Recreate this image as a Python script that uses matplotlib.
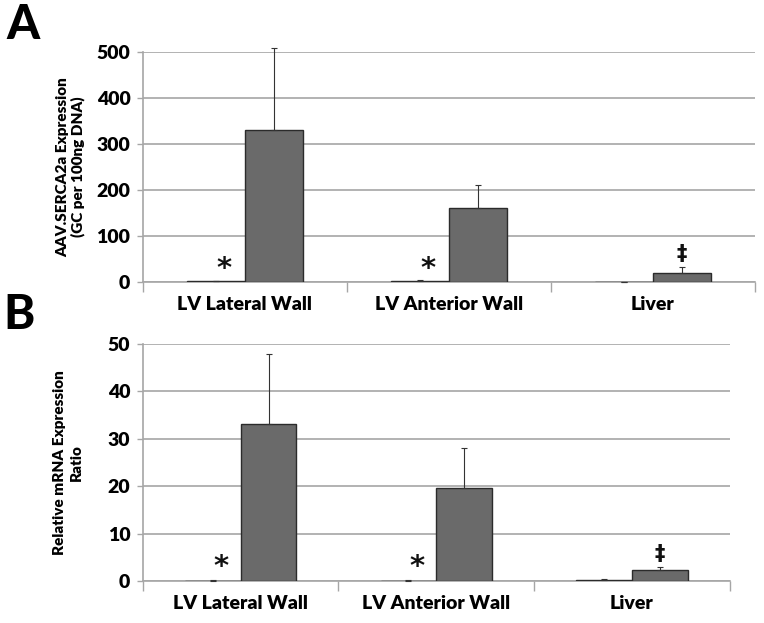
import numpy as np
import matplotlib.pyplot as plt

plt.rcParams['font.family'] = ['Lato', 'DejaVu Sans']

categories = ['LV Lateral Wall', 'LV Anterior Wall', 'Liver']

# panel A: AAV.SERCA2a genome copies
a_ctrl = [2, 3, 1]
a_ctrl_err = [1, 1, 0.5]
a_treat = [330, 161, 19]
a_treat_err = [179, 50, 14]

# panel B: relative mRNA expression ratio
b_ctrl = [0.1, 0.1, 0.3]
b_ctrl_err = [0.05, 0.05, 0.1]
b_treat = [33.1, 19.6, 2.4]
b_treat_err = [14.8, 8.4, 0.6]

# significance marks: (category index, series, symbol)
a_marks = [(0, 0, '*'), (1, 0, '*'), (2, 1, '\u2021')]
b_marks = [(0, 0, '*'), (1, 0, '*'), (2, 1, '\u2021')]

fig = plt.figure(figsize=(7.64, 6.23), dpi=100)
axA = fig.add_axes([0.187, 0.547, 0.801, 0.3695])
axB = fig.add_axes([0.187, 0.0674, 0.768, 0.3806])

bar_w = 0.285
fill = '#6a6a6a'
edge = '#2b2b2b'
grid_c = '#a6a6a6'
wt = 'heavy'


def draw(ax, ctrl, ctrl_err, treat, treat_err, ymax, step, marks, star_y, dag_y):
    x = np.arange(len(categories))
    ax.bar(x - bar_w / 2, ctrl, bar_w, color=fill, edgecolor=edge, linewidth=1, zorder=3)
    ax.bar(x + bar_w / 2, treat, bar_w, color=fill, edgecolor=edge, linewidth=1, zorder=3)
    ax.errorbar(x - bar_w / 2, ctrl, yerr=[np.zeros(3), ctrl_err], fmt='none',
                ecolor='#333333', elinewidth=0.8, capsize=2, capthick=0.8, zorder=4, clip_on=False)
    ax.errorbar(x + bar_w / 2, treat, yerr=[np.zeros(3), treat_err], fmt='none',
                ecolor='#333333', elinewidth=0.8, capsize=2, capthick=0.8, zorder=4, clip_on=False)
    for i, s, sym in marks:
        if sym == '*':
            ax.text(i - 0.10, star_y, sym, ha='center', va='center', fontsize=21,
                    fontweight='bold', fontfamily='DejaVu Sans', color='#111111', zorder=5)
        else:
            ax.text(i + bar_w / 2, dag_y, sym, ha='center', va='center', fontsize=15,
                    fontweight='bold', fontfamily='DejaVu Sans', color='#111111', zorder=5)
    ax.set_xlim(-0.5, len(categories) - 0.5)
    ax.set_ylim(0, ymax)
    ax.set_yticks(np.arange(0, ymax + 1, step))
    ax.yaxis.grid(True, color=grid_c, linewidth=1.2, zorder=0)
    ax.set_axisbelow(True)
    ax.set_xticks(x)
    ax.set_xticklabels(categories, fontsize=14, fontweight=wt)
    ax.set_xticks(np.arange(-0.5, len(categories)), minor=True)
    ax.tick_params(axis='x', which='major', length=0, pad=10)
    ax.tick_params(axis='x', which='minor', length=7, color=grid_c, width=1)
    ax.tick_params(axis='y', length=4, color=grid_c, width=1, labelsize=14, pad=5)
    for lab in ax.get_yticklabels():
        lab.set_fontweight(wt)
    for side in ['top', 'right']:
        ax.spines[side].set_visible(False)
    for side in ['left', 'bottom']:
        ax.spines[side].set_color(grid_c)
        ax.spines[side].set_linewidth(1.2)


draw(axA, a_ctrl, a_ctrl_err, a_treat, a_treat_err, 500, 100, a_marks, 28, 61)
draw(axB, b_ctrl, b_ctrl_err, b_treat, b_treat_err, 50, 10, b_marks, 3.0, 5.7)

axA.set_ylabel('AAV.SERCA2a Expression\n(GC per 100ng DNA)', fontsize=11,
               fontweight=wt, linespacing=1.15, labelpad=8)
axB.set_ylabel('Relative mRNA Expression\nRatio', fontsize=11,
               fontweight=wt, linespacing=1.3, labelpad=18)

fig.text(0.008, 0.995, 'A', fontsize=34, fontweight='black', va='top', ha='left')
fig.text(0.005, 0.53, 'B', fontsize=34, fontweight='black', va='top', ha='left')

fig.savefig('out.png', dpi=100)
